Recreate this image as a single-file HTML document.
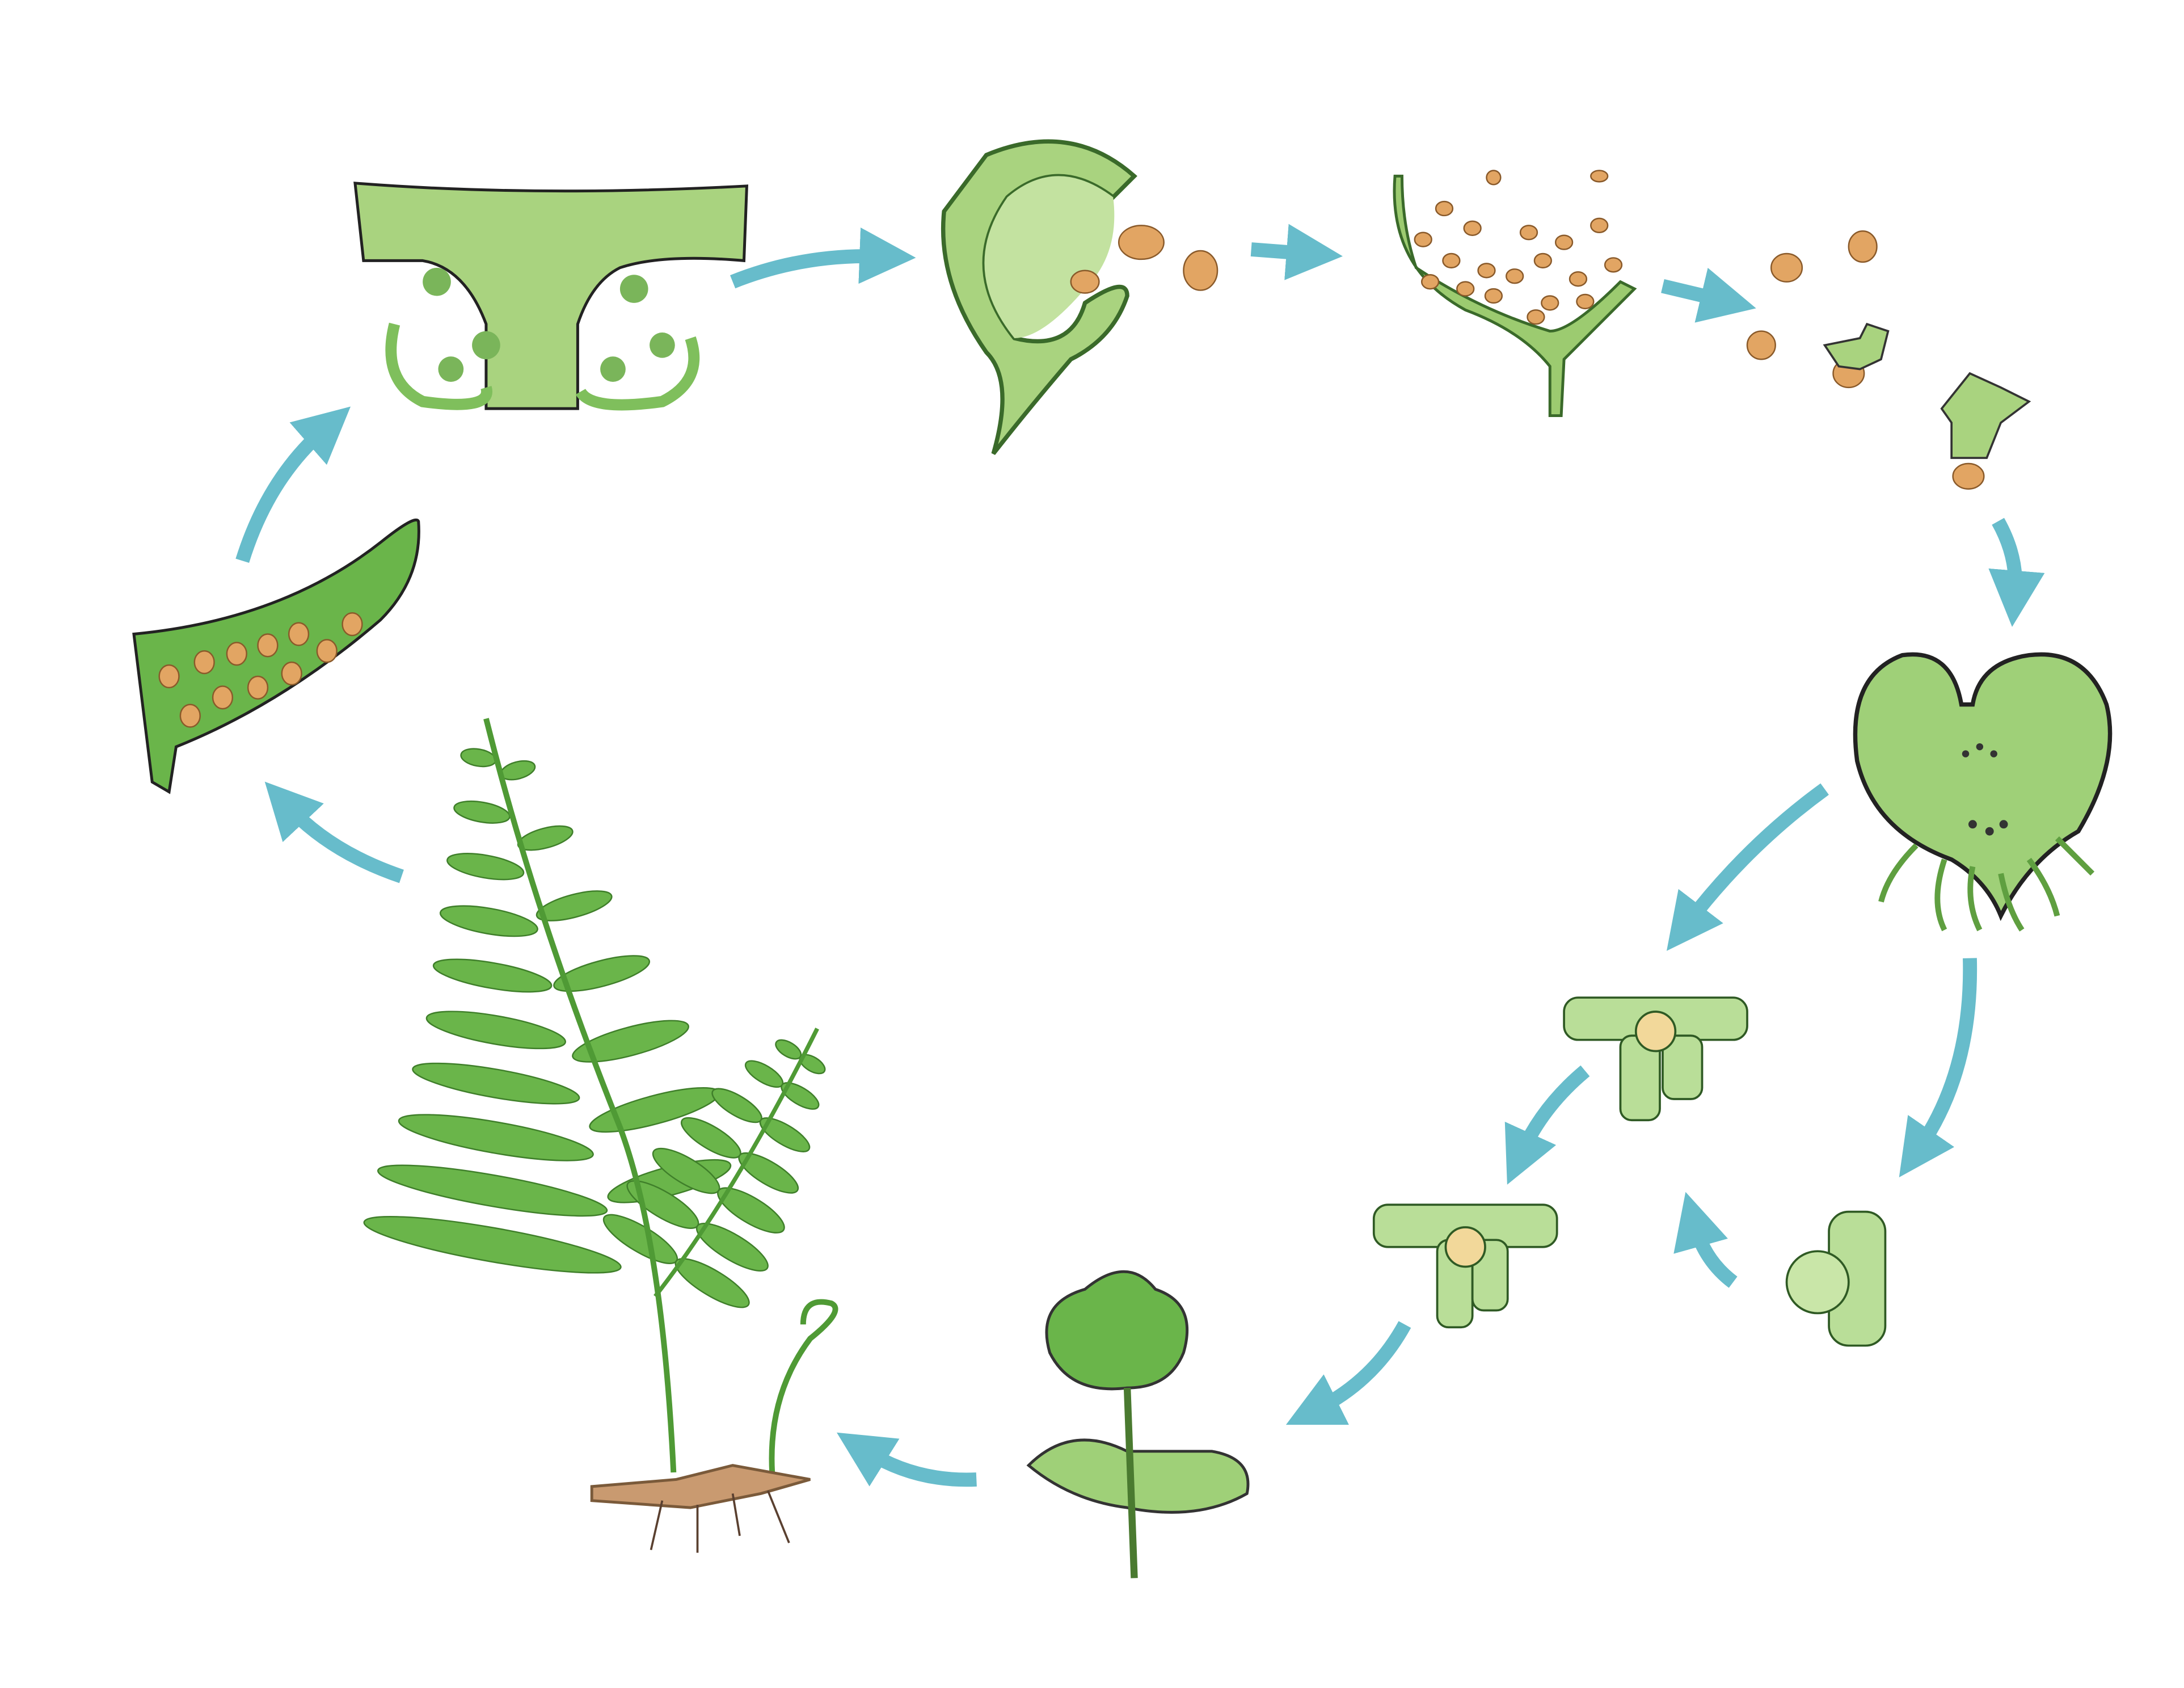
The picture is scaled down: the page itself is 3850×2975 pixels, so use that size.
<!DOCTYPE html>
<html><head><meta charset="utf-8"><style>html,body{margin:0;padding:0;background:#fff}svg{display:block}</style></head>
<body>
<svg width="3850" height="2975" viewBox="0 0 1550 1198" preserveAspectRatio="none" xmlns="http://www.w3.org/2000/svg">
<defs>
<marker id="ah" markerWidth="4" markerHeight="4" refX="1.5" refY="2" orient="auto" markerUnits="strokeWidth">
<path d="M0,0 L4,2 L0,4 Z" fill="#67bccb"/></marker>
</defs>
<rect width="1550" height="1198" fill="#fff"/>
<g fill="none" stroke="#67bccb" stroke-width="10" marker-end="url(#ah)">
<path d="M520,200 Q570,180 625,182"/>
<path d="M888,177 L928,180"/>
<path d="M1180,203 L1222,213"/>
<path d="M1418,370 Q1432,395 1430,420"/>
<path d="M1295,560 Q1240,600 1198,655"/>
<path d="M1398,680 Q1400,760 1362,815"/>
<path d="M1230,910 Q1210,895 1203,870"/>
<path d="M1125,760 Q1095,785 1080,818"/>
<path d="M997,940 Q975,980 935,1000"/>
<path d="M693,1050 Q650,1052 615,1030"/>
<path d="M285,622 Q235,605 205,573"/>
<path d="M172,398 Q190,340 230,305"/>
</g>
<!-- sorus cross-section -->
<g stroke="#222" stroke-width="2">
<path d="M252,130 Q380,140 530,132 L528,185 Q470,180 440,190 Q420,200 410,230 L410,290 L345,290 L345,230 Q330,190 300,185 L258,185 Z" fill="#a9d37f"/>
<path d="M280,230 Q270,270 300,285 Q350,292 345,275" fill="none" stroke="#7fbf5c" stroke-width="8"/>
<path d="M490,240 Q500,270 470,285 Q420,292 412,278" fill="none" stroke="#7fbf5c" stroke-width="8"/>
</g>
<g fill="#7ab55a"><circle cx="310" cy="200" r="10"/><circle cx="345" cy="245" r="10"/><circle cx="320" cy="262" r="9"/><circle cx="450" cy="205" r="10"/><circle cx="470" cy="245" r="9"/><circle cx="435" cy="262" r="9"/></g>
<!-- sporangium -->
<path d="M700,110 Q760,85 805,125 L790,140 Q750,110 715,140 Q680,190 720,240 Q760,250 770,215 Q800,195 800,210 Q790,240 760,255 Q730,290 705,322 Q720,270 700,250 Q665,200 670,150 Z" fill="#a9d37f" stroke="#3a6a2a" stroke-width="3"/>
<path d="M715,140 Q750,110 790,140 Q795,180 770,205 Q740,240 720,240 Q680,190 715,140Z" fill="#c3e2a0"/>
<g fill="#e2a563" stroke="#8a5a2a"><ellipse cx="810" cy="172" rx="16" ry="12"/><ellipse cx="852" cy="192" rx="12" ry="14"/><ellipse cx="770" cy="200" rx="10" ry="8"/></g>
<!-- open sporangium -->
<path d="M990,125 Q985,190 1040,220 Q1080,235 1100,260 L1100,295 L1108,295 L1110,255 Q1130,235 1160,205 L1150,200 Q1115,235 1100,235 Q1050,220 1005,190 Q995,160 995,125 Z" fill="#9ccb70" stroke="#3a6a2a" stroke-width="2"/>
<g fill="#e2a563" stroke="#8a5a2a">
<ellipse cx="1025" cy="148" rx="6" ry="5"/><ellipse cx="1060" cy="126" rx="5" ry="5"/><ellipse cx="1135" cy="125" rx="6" ry="4"/><ellipse cx="1045" cy="162" rx="6" ry="5"/><ellipse cx="1085" cy="165" rx="6" ry="5"/><ellipse cx="1135" cy="160" rx="6" ry="5"/><ellipse cx="1010" cy="170" rx="6" ry="5"/><ellipse cx="1030" cy="185" rx="6" ry="5"/><ellipse cx="1055" cy="192" rx="6" ry="5"/><ellipse cx="1075" cy="196" rx="6" ry="5"/><ellipse cx="1110" cy="172" rx="6" ry="5"/><ellipse cx="1095" cy="185" rx="6" ry="5"/><ellipse cx="1120" cy="198" rx="6" ry="5"/><ellipse cx="1145" cy="188" rx="6" ry="5"/><ellipse cx="1100" cy="215" rx="6" ry="5"/><ellipse cx="1125" cy="214" rx="6" ry="5"/><ellipse cx="1015" cy="200" rx="6" ry="5"/><ellipse cx="1040" cy="205" rx="6" ry="5"/><ellipse cx="1060" cy="210" rx="6" ry="5"/><ellipse cx="1090" cy="225" rx="6" ry="5"/>
</g>
<!-- germinating spores -->
<g fill="#e2a563" stroke="#8a5a2a"><ellipse cx="1268" cy="190" rx="11" ry="10"/><ellipse cx="1322" cy="175" rx="10" ry="11"/><ellipse cx="1250" cy="245" rx="10" ry="10"/><ellipse cx="1312" cy="265" rx="11" ry="10"/><ellipse cx="1397" cy="338" rx="11" ry="9"/></g>
<path d="M1295,245 L1320,240 L1325,230 L1340,235 L1335,255 L1320,262 L1305,260 Z" fill="#a9d37f" stroke="#333" stroke-width="1.5"/>
<path d="M1385,325 L1385,300 L1378,290 L1398,265 L1420,275 L1440,285 L1420,300 L1410,325 Z" fill="#a9d37f" stroke="#333" stroke-width="1.5"/>
<!-- heart prothallus -->
<path d="M1392,500 Q1385,460 1350,465 Q1310,480 1318,540 Q1330,590 1385,610 Q1410,625 1420,650 Q1440,610 1475,590 Q1505,540 1495,500 Q1480,460 1440,465 Q1405,470 1400,500 Z" fill="#9fd078" stroke="#222" stroke-width="3"/>
<g stroke="#5f9f40" stroke-width="4" fill="none"><path d="M1360,600 Q1340,620 1335,640"/><path d="M1380,610 Q1370,640 1380,660"/><path d="M1400,615 Q1395,640 1405,660"/><path d="M1420,620 Q1425,645 1435,660"/><path d="M1440,610 Q1455,630 1460,650"/><path d="M1460,595 Q1475,610 1485,620"/></g>
<g fill="#333"><circle cx="1395" cy="535" r="2.5"/><circle cx="1405" cy="530" r="2.5"/><circle cx="1415" cy="535" r="2.5"/><circle cx="1400" cy="585" r="3"/><circle cx="1412" cy="590" r="3"/><circle cx="1422" cy="585" r="3"/></g>
<!-- archegonium 1 -->
<g fill="#b9de98" stroke="#2f5a24" stroke-width="1.5">
<rect x="1110" y="708" width="130" height="30" rx="10"/>
<rect x="1150" y="735" width="28" height="60" rx="8"/><rect x="1180" y="735" width="28" height="45" rx="8"/>
<circle cx="1175" cy="732" r="14" fill="#f2d89a"/>
</g>
<!-- antheridium -->
<g fill="#b9de98" stroke="#2f5a24" stroke-width="1.5">
<rect x="1298" y="860" width="40" height="95" rx="14"/>
<circle cx="1290" cy="910" r="22" fill="#c9e6a8"/>
</g>
<!-- archegonium 2 -->
<g fill="#b9de98" stroke="#2f5a24" stroke-width="1.5">
<rect x="975" y="855" width="130" height="30" rx="10"/>
<rect x="1020" y="880" width="25" height="62" rx="8"/><rect x="1045" y="880" width="25" height="50" rx="8"/>
<circle cx="1040" cy="885" r="14" fill="#f2d89a"/>
</g>
<!-- young sporophyte -->
<path d="M730,1040 Q760,1010 800,1030 L860,1030 Q890,1035 885,1060 Q850,1080 800,1070 Q760,1065 730,1040Z" fill="#9fd078" stroke="#333" stroke-width="2"/>
<path d="M770,915 Q800,890 820,915 Q850,925 840,960 Q830,985 800,985 Q760,990 745,960 Q735,925 770,915Z" fill="#6ab54a" stroke="#333" stroke-width="2"/>
<path d="M800,985 L805,1120" stroke="#4a7a30" stroke-width="5" fill="none"/>
<!-- pinna with sori -->
<path d="M95,450 Q200,440 270,385 Q295,365 297,370 Q300,410 270,440 Q200,500 125,530 L120,562 L108,555 Z" fill="#6ab54a" stroke="#222" stroke-width="2"/>
<g fill="#e2a563" stroke="#8a5a2a"><ellipse cx="120" cy="480" rx="7" ry="8"/><ellipse cx="145" cy="470" rx="7" ry="8"/><ellipse cx="168" cy="464" rx="7" ry="8"/><ellipse cx="190" cy="458" rx="7" ry="8"/><ellipse cx="212" cy="450" rx="7" ry="8"/><ellipse cx="250" cy="443" rx="7" ry="8"/><ellipse cx="135" cy="508" rx="7" ry="8"/><ellipse cx="158" cy="495" rx="7" ry="8"/><ellipse cx="183" cy="488" rx="7" ry="8"/><ellipse cx="207" cy="478" rx="7" ry="8"/><ellipse cx="232" cy="462" rx="7" ry="8"/></g>
<!-- fern -->
<g fill="#6ab54a" stroke="#3f7f2a" stroke-width="1">
<ellipse cx="339.5" cy="537.7" rx="12.5" ry="6" transform="rotate(10 339.5 537.7)"/>
<ellipse cx="342" cy="576.4" rx="20" ry="7" transform="rotate(10 342 576.4)"/>
<ellipse cx="344.5" cy="615" rx="27.5" ry="8" transform="rotate(10 344.5 615)"/>
<ellipse cx="347" cy="653.7" rx="35" ry="9" transform="rotate(10 347 653.7)"/>
<ellipse cx="349.5" cy="692.4" rx="42.5" ry="9" transform="rotate(10 349.5 692.4)"/>
<ellipse cx="352" cy="731" rx="50" ry="10" transform="rotate(10 352 731)"/>
<ellipse cx="352" cy="769" rx="60" ry="10" transform="rotate(10 352 769)"/>
<ellipse cx="352" cy="807.4" rx="70" ry="11" transform="rotate(10 352 807.4)"/>
<ellipse cx="349.5" cy="845" rx="82.5" ry="11" transform="rotate(10 349.5 845)"/>
<ellipse cx="349.5" cy="883.4" rx="92.5" ry="12" transform="rotate(10 349.5 883.4)"/>
<ellipse cx="367.5" cy="546.7" rx="12.5" ry="6" transform="rotate(-15 367.5 546.7)"/>
<ellipse cx="387" cy="594.8" rx="20" ry="7" transform="rotate(-15 387 594.8)"/>
<ellipse cx="407.5" cy="642.9" rx="27.5" ry="8" transform="rotate(-15 407.5 642.9)"/>
<ellipse cx="427" cy="690.9" rx="35" ry="9" transform="rotate(-15 427 690.9)"/>
<ellipse cx="447.5" cy="739" rx="42.5" ry="10" transform="rotate(-15 447.5 739)"/>
<ellipse cx="464.5" cy="787.7" rx="47.5" ry="10" transform="rotate(-15 464.5 787.7)"/>
<ellipse cx="475" cy="838.3" rx="45" ry="10" transform="rotate(-15 475 838.3)"/>
<ellipse cx="454.5" cy="879.4" rx="30" ry="9" transform="rotate(31 454.5 879.4)"/>
<ellipse cx="505.5" cy="910.6" rx="30" ry="9" transform="rotate(31 505.5 910.6)"/>
<ellipse cx="470.4" cy="854.9" rx="29" ry="9" transform="rotate(31 470.4 854.9)"/>
<ellipse cx="519.7" cy="885.1" rx="29" ry="9" transform="rotate(31 519.7 885.1)"/>
<ellipse cx="487" cy="831" rx="27" ry="9" transform="rotate(31 487 831)"/>
<ellipse cx="533" cy="859" rx="27" ry="9" transform="rotate(31 533 859)"/>
<ellipse cx="504.6" cy="807.5" rx="24" ry="8" transform="rotate(31 504.6 807.5)"/>
<ellipse cx="545.4" cy="832.5" rx="24" ry="8" transform="rotate(31 545.4 832.5)"/>
<ellipse cx="523" cy="784.6" rx="20" ry="7" transform="rotate(31 523 784.6)"/>
<ellipse cx="557" cy="805.4" rx="20" ry="7" transform="rotate(31 557 805.4)"/>
<ellipse cx="542.3" cy="762.2" rx="15" ry="6" transform="rotate(31 542.3 762.2)"/>
<ellipse cx="567.8" cy="777.8" rx="15" ry="6" transform="rotate(31 567.8 777.8)"/>
<ellipse cx="559.5" cy="744.8" rx="10" ry="5" transform="rotate(31 559.5 744.8)"/>
<ellipse cx="576.5" cy="755.2" rx="10" ry="5" transform="rotate(31 576.5 755.2)"/>
</g>
<g stroke="#4f9a35" fill="none">
<path d="M345,510 Q380,650 440,800 Q470,880 478,1045" stroke-width="4"/>
<path d="M465,920 Q520,850 580,730" stroke-width="3"/>
<path d="M548,1045 Q545,990 575,950 Q600,930 590,925 Q570,920 570,940" stroke-width="4"/>
</g>
<path d="M420,1055 L480,1050 L520,1040 L575,1050 L540,1060 L490,1070 L420,1065 Z" fill="#c99a70" stroke="#7a5a3a" stroke-width="2"/>
<g stroke="#5a4030" stroke-width="1.5" fill="none"><path d="M470,1065 L462,1100"/><path d="M495,1068 L495,1102"/><path d="M520,1060 L525,1090"/><path d="M545,1058 L560,1095"/></g>
</svg>
</body></html>
